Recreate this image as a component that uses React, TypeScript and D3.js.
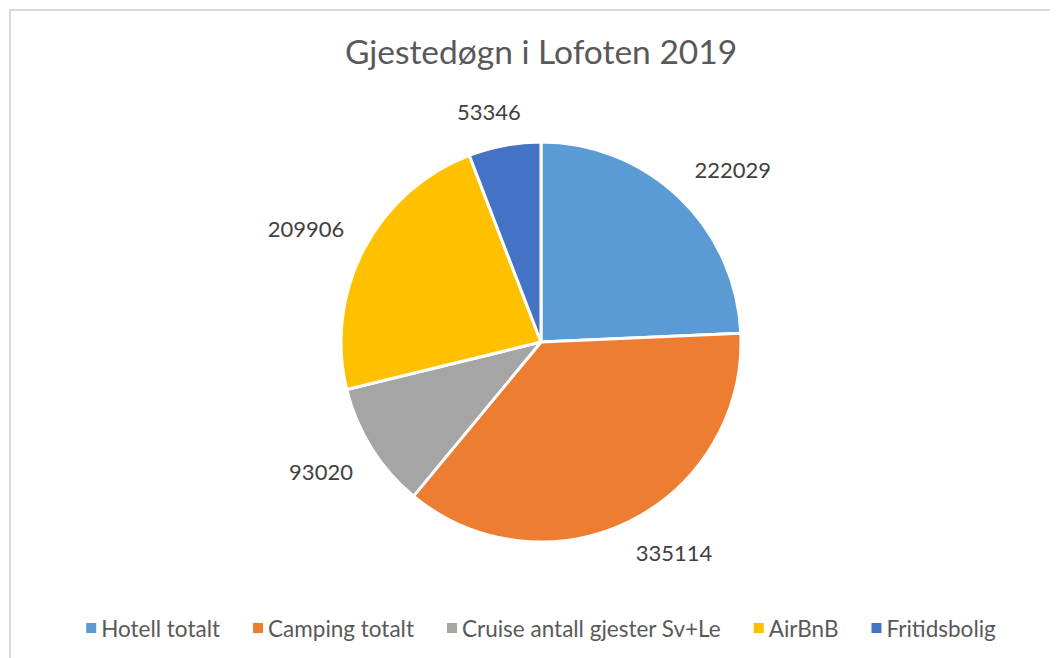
import { useEffect, useRef } from 'react';
import * as d3 from 'd3';

const categories = ['Hotell totalt', 'Camping totalt', 'Cruise antall gjester Sv+Le', 'AirBnB', 'Fritidsbolig'];
const values = [222029, 335114, 93020, 209906, 53346];
const colors = ['#5B9BD5', '#ED7D31', '#A5A5A5', '#FFC000', '#4472C4'];

const FONT = 'Lato, "Noto Sans", sans-serif';

export default function App() {
  const svgRef = useRef<SVGSVGElement>(null);

  useEffect(() => {
    if (!svgRef.current) return;
    const svg = d3.select(svgRef.current);
    svg.selectAll('*').remove();

    const width = 1050;
    const height = 650;
    const cx = 533;
    const cy = 334;
    const radius = 200;

    // chart frame (runs off the right/bottom like the screenshot)
    svg
      .append('rect')
      .attr('x', 2)
      .attr('y', 2)
      .attr('width', width + 20)
      .attr('height', height + 20)
      .attr('fill', '#fff')
      .attr('stroke', '#d9d9d9')
      .attr('stroke-width', 2);

    svg
      .append('text')
      .attr('x', cx)
      .attr('y', 56)
      .attr('text-anchor', 'middle')
      .attr('fill', '#595959')
      .style('font-family', FONT)
      .style('font-size', '33.5px')
      .text('Gjestedøgn i Lofoten 2019');

    const data = values.map((v, i) => ({ name: categories[i], value: v, color: colors[i] }));
    type D = (typeof data)[number];

    const pie = d3
      .pie<D>()
      .value((d) => d.value)
      .sort(null);

    const arc = d3.arc<d3.PieArcDatum<D>>().innerRadius(0).outerRadius(radius);

    const g = svg.append('g').attr('transform', `translate(${cx},${cy})`);
    const arcs = pie(data);

    g.selectAll('path')
      .data(arcs)
      .enter()
      .append('path')
      .attr('d', arc)
      .attr('fill', (d) => d.data.color)
      .attr('stroke', '#fff')
      .attr('stroke-width', 3)
      .attr('stroke-linejoin', 'round');

    // outside-end labels: anchor point just past the rim, box pushed outward
    const labels = g
      .selectAll('text.lbl')
      .data(arcs)
      .enter()
      .append('text')
      .attr('class', 'lbl')
      .attr('text-anchor', 'middle')
      .attr('dominant-baseline', 'central')
      .attr('fill', '#404040')
      .style('font-family', FONT)
      .style('font-size', '22px')
      .text((d) => String(d.data.value));

    const clamp = (v: number) => Math.max(-1, Math.min(1, v));
    labels.each(function (d) {
      const el = this as SVGTextElement;
      const w = el.getComputedTextLength();
      const h = 24;
      const mid = (d.startAngle + d.endAngle) / 2;
      const ux = Math.sin(mid);
      const uy = -Math.cos(mid);
      const r = radius + 22;
      const x = ux * r + (clamp(ux * 2) * w) / 2;
      const y = uy * r + (clamp(uy * 2) * h) / 2;
      d3.select(el).attr('x', x).attr('y', y);
    });

    // legend, centred under the pie
    const legend = svg.append('g');
    const items = legend
      .selectAll('g')
      .data(data)
      .enter()
      .append('g');
    items
      .append('rect')
      .attr('width', 10)
      .attr('height', 10)
      .attr('y', -5)
      .attr('fill', (d) => d.color);
    items
      .append('text')
      .attr('x', 15)
      .attr('dominant-baseline', 'central')
      .attr('fill', '#595959')
      .style('font-family', FONT)
      .style('font-size', '22.5px')
      .text((d) => d.name);

    let x = 0;
    const gap = 33;
    items.each(function () {
      const grp = this as SVGGElement;
      const t = d3.select(grp).select('text').node() as SVGTextElement;
      const w = 15 + t.getComputedTextLength();
      d3.select(grp).attr('transform', `translate(${x},0)`);
      x += w + gap;
    });
    const total = x - gap;
    legend.attr('transform', `translate(${cx - total / 2},${620})`);
  }, []);

  return <svg ref={svgRef} width={1050} height={650} style={{ display: 'block' }} />;
}
